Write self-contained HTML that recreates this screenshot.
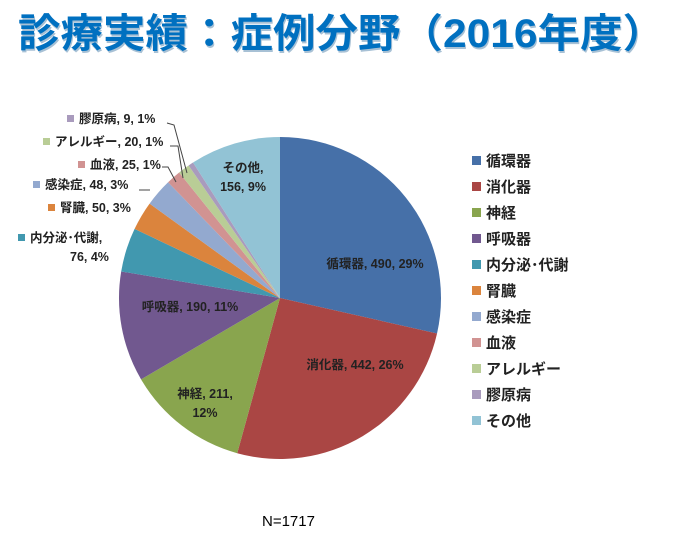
<!DOCTYPE html>
<html><head><meta charset="utf-8"><style>
body{margin:0;background:#fff;width:700px;height:534px;overflow:hidden;font-family:"Liberation Sans","Noto Sans CJK JP",sans-serif}
svg text{font-family:"Liberation Sans","Noto Sans CJK JP",sans-serif}
</style></head><body>
<svg width="700" height="534">
<text x="19" y="49" font-size="40" font-weight="bold" fill="#0a4f8a" opacity="0.35" textLength="647" lengthAdjust="spacingAndGlyphs">診療実績：症例分野（2016年度）</text>
<text x="18" y="47" font-size="40" font-weight="bold" fill="#0070C0" textLength="647" lengthAdjust="spacingAndGlyphs">診療実績：症例分野（2016年度）</text>
<g id="pie"></g>
<g id="labels"></g>
<g id="legend"></g>
<text x="262" y="526" font-size="15" fill="#000">N=1717</text>
</svg>
<script>
const categories=["循環器","消化器","神経","呼吸器","内分泌･代謝","腎臓","感染症","血液","アレルギー","膠原病","その他"];
const values=[490,442,211,190,76,50,48,25,20,9,156];
const percents=["29%","26%","12%","11%","4%","3%","3%","1%","1%","1%","9%"];
const colors=["#4670A8","#AA4644","#89A54E","#71588F","#4198AF","#DB843D","#93A9CF","#D19392","#B9CD96","#A99BBD","#92C3D5"];
const NS="http://www.w3.org/2000/svg";
const cx=280,cy=298,r=161;
const total=values.reduce((a,b)=>a+b,0);
const pie=document.getElementById('pie'),lab=document.getElementById('labels'),leg=document.getElementById('legend');
function pt(a,rr){return [cx+rr*Math.sin(a),cy-rr*Math.cos(a)];}
let acc=0;
const place=[
 {x:375,y:268,a:"middle"},
 {x:355,y:369,a:"middle"},
 {x:205,y:398,a:"middle",two:true},
 {x:190,y:311,a:"middle"},
 {x:30,y:242,a:"start",out:true,two:true},
 {x:60,y:212,a:"start",out:true},
 {x:45,y:189,a:"start",out:true,lead:[139,190,150,190]},
 {x:90,y:169,a:"start",out:true,lead:[162,167,168,167,176,182]},
 {x:55,y:146,a:"start",out:true,lead:[170,146,178,146,183,178]},
 {x:79,y:123,a:"start",out:true,lead:[167,123,174,125,187,173]},
 {x:243,y:172,a:"middle",two:true}
];
values.forEach((v,i)=>{
 const a0=acc/total*2*Math.PI; acc+=v; const a1=acc/total*2*Math.PI;
 const p0=pt(a0,r),p1=pt(a1,r);
 const path=document.createElementNS(NS,'path');
 path.setAttribute('d',`M${cx},${cy}L${p0[0]},${p0[1]}A${r},${r} 0 ${a1-a0>Math.PI?1:0} 1 ${p1[0]},${p1[1]}Z`);
 path.setAttribute('fill',colors[i]);
 
 
 pie.appendChild(path);
 const p=place[i];
 if(p.lead){const l=document.createElementNS(NS,'polyline');
  l.setAttribute('points',p.lead.join(' '));l.setAttribute('fill','none');l.setAttribute('stroke','#444');l.setAttribute('stroke-width','1');
  
  
  lab.appendChild(l);}
 const t=document.createElementNS(NS,'text');
 t.setAttribute('font-size','12.5');t.setAttribute('font-weight','bold');t.setAttribute('fill','#222');
 t.setAttribute('text-anchor',p.a);
 
 
 let x=p.x;
 if(p.out){const s=document.createElementNS(NS,'rect');s.setAttribute('x',p.x-12);s.setAttribute('y',p.y-8);s.setAttribute('width',7);s.setAttribute('height',7);s.setAttribute('fill',colors[i]);
  
  
  lab.appendChild(s);}
 if(p.two){
  const first=i==2?`${categories[i]}, ${v},`:`${categories[i]},`;
  const second=i==2?percents[i]:`${v}, ${percents[i]}`;
  const t1=document.createElementNS(NS,'tspan');t1.setAttribute('x',x);t1.setAttribute('y',p.y);t1.textContent=first;
  const t2=document.createElementNS(NS,'tspan');t2.setAttribute('x',p.a=="start"?x+40:x);t2.setAttribute('y',p.y+19);t2.textContent=second;
  t.appendChild(t1);t.appendChild(t2);
 } else {t.setAttribute('x',x);t.setAttribute('y',p.y);t.textContent=`${categories[i]}, ${v}, ${percents[i]}`;}
 lab.appendChild(t);
});
categories.forEach((c,i)=>{
 const y=160+i*26;
 const s=document.createElementNS(NS,'rect');
 s.setAttribute('x',472);s.setAttribute('y',y-4);s.setAttribute('width',9);s.setAttribute('height',9);s.setAttribute('fill',colors[i]);
 
 
 leg.appendChild(s);
 const t=document.createElementNS(NS,'text');
 t.setAttribute('x',486);t.setAttribute('y',y+6);t.setAttribute('font-size','15');t.setAttribute('font-weight','bold');t.setAttribute('fill','#222');
 t.textContent=c;
 
 
 leg.appendChild(t);
});
</script>
</body></html>
